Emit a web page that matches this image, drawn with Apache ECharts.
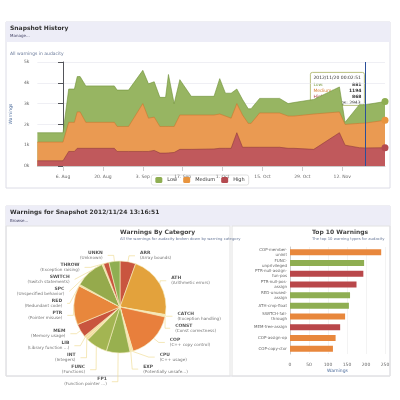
<!DOCTYPE html>
<html><head><meta charset="utf-8">
<script src="https://cdn.jsdelivr.net/npm/echarts@6/dist/echarts.min.js"></script>
<style>html,body{margin:0;padding:0;background:#fff}#c{width:400px;height:400px}</style>
</head><body><div id="c"></div>
<script>
// ---- Snapshot history ----
const historyDates = ['2012-07-28','2012-08-06','2012-08-08','2012-08-10','2012-08-11','2012-08-12','2012-08-14','2012-08-24','2012-08-25','2012-08-29','2012-09-03','2012-09-05','2012-09-07','2012-09-09','2012-09-11','2012-09-12','2012-09-14','2012-09-16','2012-09-20','2012-09-28','2012-09-30','2012-10-02','2012-10-04','2012-10-06','2012-10-08','2012-10-10','2012-10-11','2012-10-14','2012-10-21','2012-10-24','2012-10-26','2012-11-02','2012-11-11','2012-11-13','2012-11-18','2012-11-20','2012-11-27'];
const lowValues =    [450,450,1600,1600,1700,1700,1750,1750,1750,1750,1600,1650,1700,1400,1400,2500,1100,1700,900,900,1700,1100,1200,700,750,700,700,700,700,600,650,700,1200,100,900,881,900];
const mediumValues = [900,900,1400,1400,1750,1750,1250,1250,1200,1200,2300,1600,1600,1280,1280,1270,1250,1650,1650,1630,1650,1550,1450,1400,1550,1150,1150,1650,1650,1550,1550,1700,1000,1000,1170,1194,1320];
const highValues =   [250,250,700,700,850,850,850,850,700,700,700,700,750,620,620,630,650,800,800,820,850,850,850,1600,900,900,900,900,900,850,850,800,1600,1000,880,868,880];
const xTickLabels = ['6. Aug','20. Aug','3. Sep','17. Sep','1. Oct','15. Oct','29. Oct','12. Nov'];
const yTickLabels = ['0k','1k','2k','3k','4k','5k'];
// ---- Category pie ----
const catNames = ['ARR','ATH','CATCH','CONST','COP','CPU','EXP','FP1','FUNC','INT','LIB','MEM','PTR','RED','SPC','SWITCH','THROW','UNKN'];
const catDesc = ['Array bounds','Arithmetic errors','Exception handling','Const correctness','C++ copy control','C++ usage','Potentially unsafe...','Function pointer ...','Functions','Integers','Library function ...','Memory usage','Pointer misuse','Redundant code','Unspecified behavior','Switch statements','Exception raising','Unknown'];
const catValues = [160,640,12,12,490,16,16,240,220,24,24,136,400,16,304,16,56,112];
const catColors = ['#c9553f','#e3a23c','#f3dc9c','#f3dc9c','#e87f3c','#f3dc9c','#f3dc9c','#98b04f','#a3b552','#f3dc9c','#f3dc9c','#c9553f','#e8873c','#f3dc9c','#95aa4c','#f3dc9c','#c9553f','#8fae52'];
// ---- Top 10 ----
const topNames = ['COP-member-\nuninit','FUNC-\nunprivileged','PTR-null-assign-\nfun-pos','PTR-null-pos-\nassign','RED-unused-\nassign','ATH-cmp-float','SWITCH-fall-\nthrough','MEM-free-assign','COP-assign-op','COP-copy-ctor'];
const topValues = [240,195,193,175,158,155,145,132,120,113];
const topColors = ['#e8873c','#8fae52','#b9474a','#b9474a','#8fae52','#8fae52','#e8873c','#b9474a','#e8873c','#e8873c'];

const base = Date.UTC(2012,7,6);
const dayOf = s => { const p = s.split('-'); return (Date.UTC(+p[0],+p[1]-1,+p[2]) - base)/86400000; };
const xs = historyDates.map(dayOf);
// cumulative tops for stacked drawing
const highTop = highValues.slice();
const medTop = highValues.map((v,i)=>v+mediumValues[i]);
const lowTop = medTop.map((v,i)=>v+lowValues[i]);
const pts = (arr,color) => arr.map((v,i)=> i===arr.length-1 ? {value:[xs[i],v],symbol:'circle',symbolSize:7,itemStyle:{color}} : {value:[xs[i],v],symbol:'none'});
const F = 'DejaVu Sans, sans-serif';
const grayT = '#666';
const nov20 = dayOf('2012-11-20');

const chart = echarts.init(document.getElementById('c'), null, {renderer:'canvas'});
chart.setOption({
  animation:false,
  textStyle:{fontFamily:F},
  graphic:[
    {type:'rect',shape:{x:6,y:22,width:384,height:166},style:{fill:'#fff',stroke:'#dcdce6',lineWidth:1},z:-10},
    {type:'rect',shape:{x:6,y:22,width:384,height:20},style:{fill:'#ededf7'},z:-9},
    {type:'text',left:10,top:25,style:{text:'Snapshot History',font:'bold 6px '+F,fill:'#333'}},
    {type:'text',left:10,top:34,style:{text:'Manage...',font:'4px '+F,fill:'#446',textDecoration:'underline'}},
    {type:'text',left:10,top:51,style:{text:'All warnings in audacity',font:'4.5px '+F,fill:'#6a7a9a'}},
    {type:'rect',shape:{x:6,y:206,width:384,height:170},style:{fill:'#fff',stroke:'#dcdce6',lineWidth:1},z:-10},
    {type:'rect',shape:{x:6,y:206,width:384,height:20},style:{fill:'#ededf7'},z:-9},
    {type:'text',left:10,top:209,style:{text:'Warnings for Snapshot 2012/11/24 13:16:51',font:'bold 6px '+F,fill:'#333'}},
    {type:'text',left:10,top:219,style:{text:'Browse...',font:'4px '+F,fill:'#446'}},
    {type:'rect',shape:{x:6,y:226,width:224,height:150},style:{fill:'none',stroke:'#e2e2e2',lineWidth:1},z:-8},
    {type:'rect',shape:{x:232,y:226,width:158,height:150},style:{fill:'none',stroke:'#e2e2e2',lineWidth:1},z:-8},
    {type:'text',left:120,top:229,style:{text:'Warnings By Category',font:'bold 6px '+F,fill:'#444',textAlign:'center'}},
    {type:'text',left:120,top:237,style:{text:'All the warnings for audacity broken down by warning category',font:'3.8px '+F,fill:'#6a7a9a',textAlign:'center'}},
    {type:'text',left:312,top:229,style:{text:'Top 10 Warnings',font:'bold 6px '+F,fill:'#444',textAlign:'center'}},
    {type:'text',left:312,top:237,style:{text:'The top 10 warning types for audacity',font:'3.8px '+F,fill:'#6a7a9a',textAlign:'center'}},
    {type:'group',left:310,top:72,z:100,children:[
      {type:'rect',shape:{x:0,y:0,width:54,height:33,r:2},style:{fill:'rgba(255,255,255,0.92)',stroke:'#a8b060',lineWidth:0.8}},
      {type:'text',x:3,y:3,style:{text:'2012/11/20 00:02:51',font:'4.5px '+F,fill:'#333'}},
      {type:'text',x:3,y:10,style:{text:'Low:',font:'4.5px '+F,fill:'#7c9c42'}},
      {type:'text',x:51,y:10,style:{text:'881',font:'bold 4.5px '+F,fill:'#333',textAlign:'right'}},
      {type:'text',x:3,y:16,style:{text:'Medium:',font:'4.5px '+F,fill:'#d98236'}},
      {type:'text',x:51,y:16,style:{text:'1194',font:'bold 4.5px '+F,fill:'#333',textAlign:'right'}},
      {type:'text',x:3,y:22,style:{text:'High:',font:'4.5px '+F,fill:'#b04045'}},
      {type:'text',x:51,y:22,style:{text:'868',font:'bold 4.5px '+F,fill:'#333',textAlign:'right'}},
      {type:'text',x:3,y:28,style:{text:'Total Warnings: 2943',font:'4.5px '+F,fill:'#333'}}
    ]}
  ],
  legend:{data:['Low','Medium','High'],left:'center',top:175,itemWidth:7,itemHeight:6,itemGap:6,
    icon:'roundRect',textStyle:{fontSize:5,color:'#333'},borderColor:'#ccc',borderWidth:0.6,borderRadius:2,padding:[2,4]},
  grid:[
    {left:32,right:15,top:62,bottom:234},
    {left:290,right:15,top:247,bottom:46}
  ],
  xAxis:[
    {type:'value',gridIndex:0,min:-9,max:113,
      axisLine:{lineStyle:{color:'#ccc'}},axisTick:{show:true,customValues:[0,14,28,42,56,70,84,98],lineStyle:{color:'#ccc'}},
      axisLabel:{customValues:[0,14,28,42,56,70,84,98],formatter:v=>xTickLabels[v/14],fontSize:4.5,color:grayT},splitLine:{show:false}},
    {type:'value',gridIndex:1,min:0,max:250,interval:50,
      axisLine:{show:false},axisTick:{show:false},axisLabel:{fontSize:4.5,color:grayT},
      splitLine:{lineStyle:{color:'#e6e6e6',width:0.5}},
      name:'Warnings',nameLocation:'middle',nameGap:9,nameTextStyle:{fontSize:4.5,color:'#4a6a9a'}}
  ],
  yAxis:[
    {type:'value',gridIndex:0,min:0,max:5000,interval:1000,
      axisLabel:{formatter:v=>yTickLabels[v/1000],fontSize:4.5,color:grayT},
      splitLine:{lineStyle:{color:'#e4e4ec',width:0.6}},
      name:'Warnings',nameLocation:'middle',nameGap:15,nameTextStyle:{fontSize:4.5,color:'#4a6a9a'}},
    {type:'category',gridIndex:1,inverse:true,data:topNames,
      axisLine:{lineStyle:{color:'#ccc'}},axisTick:{show:false},
      axisLabel:{fontSize:4,color:grayT,lineHeight:5,margin:3}}
  ],
  series:[
    {name:'Low',type:'line',xAxisIndex:0,yAxisIndex:0,data:pts(lowTop,'#8fae52'),z:2,
      lineStyle:{color:'#6f9038',width:0.6},itemStyle:{color:'#8fae52'},areaStyle:{color:'#97b562',opacity:1}},
    {name:'Medium',type:'line',xAxisIndex:0,yAxisIndex:0,data:pts(medTop,'#e8943e'),z:3,
      lineStyle:{color:'#c87830',width:0.6},itemStyle:{color:'#e8943e'},areaStyle:{color:'#ea9a52',opacity:1}},
    {name:'High',type:'line',xAxisIndex:0,yAxisIndex:0,data:pts(highTop,'#b44a50'),z:4,
      lineStyle:{color:'#8e3a3e',width:0.6},itemStyle:{color:'#b44a50'},areaStyle:{color:'#c0595c',opacity:1},
      markLine:{silent:true,symbol:'none',label:{show:false},lineStyle:{color:'#2a4f9a',width:1,type:'solid'},data:[{xAxis:nov20}]}},
    {type:'pie',center:[120,307],radius:46,startAngle:90,clockwise:true,
      data:catNames.map((n,i)=>({name:n,value:catValues[i],itemStyle:{color:catColors[i]}})),
      itemStyle:{borderColor:'#f6ecc0',borderWidth:0.6},
      label:{fontSize:4.2,color:'#777',lineHeight:5,formatter:p=>'{b|'+p.name+'}\n('+catDesc[p.dataIndex]+')',
        rich:{b:{fontSize:4.5,fontWeight:'bold',color:'#555'}}},
      labelLine:{length:6,length2:6,lineStyle:{color:'#eed88a',width:0.6}}},
    {type:'bar',xAxisIndex:1,yAxisIndex:1,barWidth:6,
      data:topValues.map((v,i)=>({value:v,itemStyle:{color:topColors[i]}}))}
  ]
});
</script></body></html>
